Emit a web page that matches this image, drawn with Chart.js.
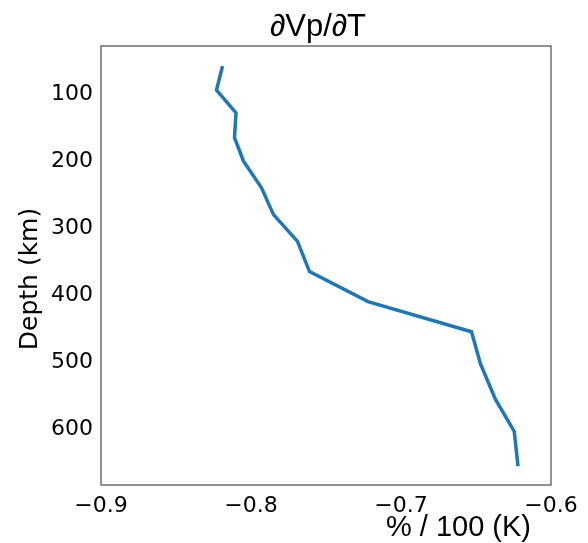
<!DOCTYPE html>
<html>
<head>
<meta charset="utf-8">
<script src="https://cdn.jsdelivr.net/npm/chart.js@4"></script>
<style>
  html, body { margin: 0; padding: 0; background: #fff; }
  #wrap { width: 588px; height: 543px; position: relative; }
</style>
</head>
<body>
<div id="wrap"><canvas id="c" width="588" height="543"></canvas></div>
<script>
// Data
const depthKm = [58, 94, 128, 165, 200, 240, 280, 320, 365, 410, 455, 503, 556, 604, 656];
const dVpdT = [-0.819, -0.823, -0.810, -0.811, -0.805, -0.793, -0.785, -0.769, -0.761, -0.722, -0.653, -0.647, -0.637, -0.6245, -0.622];
const xTicks = [-0.9, -0.8, -0.7, -0.6];
const yTicks = [100, 200, 300, 400, 500, 600];
const titleText = '\u2202Vp/\u2202T';
const xLabel = '% / 100 (K)';
const yLabel = 'Depth (km)';

const frameColor = '#6e6e6e';
const fmt = v => (v < 0 ? '\u2212' : '') + Math.abs(v).toFixed(1);

const decor = {
  id: 'decor',
  afterDraw(chart) {
    const { ctx, chartArea: a } = chart;
    ctx.save();
    ctx.strokeStyle = frameColor;
    ctx.lineWidth = 1.5;
    ctx.strokeRect(a.left, a.top, a.right - a.left, a.bottom - a.top);
    ctx.fillStyle = '#000';
    ctx.textBaseline = 'alphabetic';
    ctx.font = '31px "Liberation Sans"';
    ctx.textAlign = 'center';
    ctx.fillText(titleText, 318, 36);
    ctx.font = '29px "Liberation Sans"';
    ctx.textAlign = 'right';
    ctx.fillText(xLabel, 531, 536);
    ctx.translate(37, 279);
    ctx.rotate(-Math.PI / 2);
    ctx.textAlign = 'center';
    ctx.font = '25px "DejaVu Sans"';
    ctx.fillText(yLabel, 0, 0);
    ctx.restore();
  }
};

new Chart(document.getElementById('c'), {
  type: 'line',
  data: {
    datasets: [{
      data: depthKm.map((d, i) => ({ x: dVpdT[i], y: d })),
      borderColor: '#1f77b4',
      borderWidth: 3.5,
      pointRadius: 0,
      fill: false,
      tension: 0
    }]
  },
  options: {
    responsive: false,
    animation: false,
    devicePixelRatio: 1,
    layout: { padding: { top: 46, right: 37, bottom: 0, left: 0 } },
    plugins: { legend: { display: false }, tooltip: { enabled: false }, title: { display: false } },
    scales: {
      x: {
        type: 'linear',
        min: -0.9,
        max: -0.6,
        afterFit(s) { s.height = 58; },
        afterBuildTicks(s) { s.ticks = xTicks.map(v => ({ value: v })); },
        grid: { display: false, drawTicks: true, tickLength: 4, tickColor: frameColor, drawOnChartArea: false },
        border: { display: false },
        ticks: {
          color: '#000',
          font: { family: 'DejaVu Sans', size: 22 },
          padding: 4,
          maxRotation: 0,
          callback: v => fmt(v)
        }
      },
      y: {
        type: 'linear',
        reverse: true,
        min: 28,
        max: 684,
        afterFit(s) { s.width = 101; },
        afterBuildTicks(s) { s.ticks = yTicks.map(v => ({ value: v })); },
        grid: { display: false, drawTicks: true, tickLength: 4, tickColor: frameColor, drawOnChartArea: false },
        border: { display: false },
        ticks: {
          color: '#000',
          font: { family: 'DejaVu Sans', size: 22 },
          padding: 4,
          callback: v => String(v)
        }
      }
    }
  },
  plugins: [decor]
});
</script>
</body>
</html>
